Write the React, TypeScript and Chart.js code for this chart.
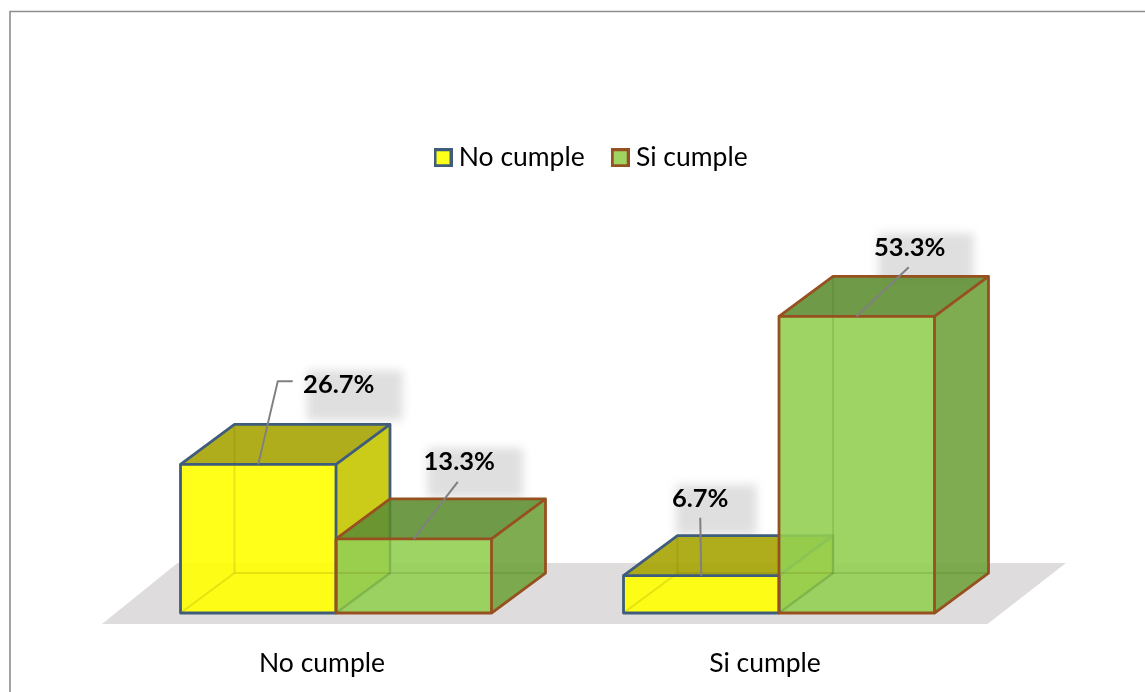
import React, { useEffect, useRef } from "react";
import { Chart, registerables } from "chart.js";

Chart.register(...registerables);

const categories = ["No cumple", "Si cumple"];
const seriesNames = ["No cumple", "Si cumple"];
const noCumpleValues = [26.7, 6.7];
const siCumpleValues = [13.3, 53.3];

const FONT = "Lato, 'Open Sans', sans-serif";
const DX = 54;
const DY = 40;

const skins = [
  {
    front: "rgba(255,255,0,0.9)",
    solid: "#FFFF1A",
    top: "rgba(167,164,3,0.9)",
    side: "rgba(197,197,0,0.9)",
    edge: "#3F5C7C",
    inner: "rgba(100,100,0,0.16)",
  },
  {
    front: "rgba(148,207,82,0.9)",
    solid: "#9FD463",
    top: "rgba(95,143,52,0.9)",
    side: "rgba(113,163,61,0.9)",
    edge: "#97501F",
    inner: "rgba(60,100,20,0.16)",
  },
];

// offsets from a bar's top centre: text centre and leader-line points
const labelPlacement = [
  [
    { tx: 80.5, ty: -80, path: [[19.5, -83], [34.5, -83]] },
    { tx: -1, ty: -77, path: [[-1, -58]] },
  ],
  [
    { tx: 45.5, ty: -77, path: [[44, -57]] },
    { tx: 53, ty: -69, path: [[52, -49]] },
  ],
];

function swatch(fill: string, edge: string) {
  const c = document.createElement("canvas");
  c.width = 19;
  c.height = 19;
  const g = c.getContext("2d")!;
  g.fillStyle = fill;
  g.fillRect(1, 1, 17, 17);
  g.strokeStyle = edge;
  g.lineWidth = 3;
  g.strokeRect(1.5, 1.5, 16, 16);
  return c;
}

function poly(ctx: CanvasRenderingContext2D, pts: number[][]) {
  ctx.beginPath();
  pts.forEach((p, i) => (i ? ctx.lineTo(p[0], p[1]) : ctx.moveTo(p[0], p[1])));
}

function bars(chart: any, fn: (b: any, ds: number, i: number) => void) {
  chart.data.labels.forEach((_: any, i: number) => {
    chart.data.datasets.forEach((_d: any, ds: number) => {
      const el = chart.getDatasetMeta(ds).data[i];
      const l = el.x - el.width / 2;
      fn({ l, r: l + el.width, t: el.y, b: el.base, cx: el.x }, ds, i);
    });
  });
}

const scene3d = {
  id: "scene3d",
  beforeDraw(chart: any) {
    const ctx = chart.ctx;
    ctx.save();
    ctx.strokeStyle = "#8E8E8E";
    ctx.lineWidth = 1.6;
    poly(ctx, [[10, 692], [10, 11.5], [1145, 11.5]]);
    ctx.stroke();
    ctx.restore();
  },
  beforeDatasetsDraw(chart: any) {
    const ctx = chart.ctx;
    const a = chart.chartArea;
    ctx.save();
    // floor
    ctx.fillStyle = "#DEDCDD";
    poly(ctx, [
      [a.left - 12.5, a.bottom + 11],
      [a.right - 13, a.bottom + 11],
      [a.right + 65.5, a.bottom - 50],
      [a.left + 63, a.bottom - 50],
    ]);
    ctx.closePath();
    ctx.fill();

    // soft shadows behind the value labels
    ctx.font = `bold 25.5px ${FONT}`;
    bars(chart, (b, ds, i) => {
      const p = labelPlacement[ds][i];
      const txt = chart.data.datasets[ds].data[i].toFixed(1) + "%";
      const w = ctx.measureText(txt).width;
      const cx = b.cx + p.tx;
      const cy = b.t + p.ty;
      ctx.save();
      ctx.filter = "blur(5px)";
      ctx.fillStyle = "#DFDFDF";
      ctx.fillRect(cx - w / 2 + 4, cy - 14, w + 24, 50);
      ctx.restore();
    });

    // top and side faces
    ctx.lineJoin = "round";
    bars(chart, (b, ds) => {
      const s = skins[ds];
      ctx.lineWidth = 2.8;
      ctx.strokeStyle = s.edge;
      ctx.fillStyle = s.side;
      poly(ctx, [[b.r, b.t], [b.r + DX, b.t - DY], [b.r + DX, b.b - DY], [b.r, b.b]]);
      ctx.closePath();
      ctx.fill();
      ctx.fillStyle = s.top;
      poly(ctx, [[b.l, b.t], [b.l + DX, b.t - DY], [b.r + DX, b.t - DY], [b.r, b.t]]);
      ctx.closePath();
      ctx.fill();
      poly(ctx, [[b.l, b.t], [b.l + DX, b.t - DY], [b.r + DX, b.t - DY], [b.r + DX, b.b - DY], [b.r, b.b]]);
      ctx.stroke();
      poly(ctx, [[b.r, b.t], [b.r + DX, b.t - DY]]);
      ctx.stroke();
    });
    ctx.restore();
  },
  afterDatasetsDraw(chart: any) {
    const ctx = chart.ctx;
    ctx.save();
    ctx.lineJoin = "round";
    // hidden edges seen through the faces
    bars(chart, (b, ds) => {
      ctx.strokeStyle = skins[ds].inner;
      ctx.lineWidth = 2;
      poly(ctx, [[b.l + DX, b.t - DY], [b.l + DX, b.b - DY], [b.r + DX, b.b - DY]]);
      ctx.stroke();
      poly(ctx, [[b.l, b.b], [b.l + DX, b.b - DY]]);
      ctx.stroke();
    });
    // front outlines
    bars(chart, (b, ds) => {
      ctx.strokeStyle = skins[ds].edge;
      ctx.lineWidth = 2.8;
      ctx.strokeRect(b.l, b.t, b.r - b.l, b.b - b.t);
    });
    // leaders and value labels
    bars(chart, (b, ds, i) => {
      const p = labelPlacement[ds][i];
      ctx.strokeStyle = "#808080";
      ctx.lineWidth = 2;
      poly(ctx, [[b.cx, b.t], ...p.path.map((q) => [b.cx + q[0], b.t + q[1]])]);
      ctx.stroke();
      ctx.fillStyle = "#000";
      ctx.font = `bold 25.5px ${FONT}`;
      ctx.textAlign = "center";
      ctx.textBaseline = "middle";
      ctx.fillText(chart.data.datasets[ds].data[i].toFixed(1) + "%", b.cx + p.tx, b.t + p.ty);
    });
    ctx.restore();
  },
  afterLayout(chart: any) {
    const lg = chart.legend;
    if (!lg) return;
    const p = lg.options.labels.padding;
    lg.left = 440.5 - p;
    lg.right = lg.left + 500;
    lg.top = 157 - p - (lg._itemHeight ?? 25) / 2;
    lg.bottom = lg.top + 100;
  },
};

export default function App() {
  const ref = useRef<HTMLCanvasElement>(null);
  useEffect(() => {
    document.body.style.margin = "0";
    const chart = new Chart(ref.current!, {
      type: "bar",
      data: {
        labels: categories,
        datasets: [
          {
            label: seriesNames[0],
            data: noCumpleValues,
            backgroundColor: skins[0].front,
            borderColor: skins[0].edge,
            borderWidth: 0,
            barPercentage: 1,
            categoryPercentage: 0.702,
          },
          {
            label: seriesNames[1],
            data: siCumpleValues,
            backgroundColor: skins[1].front,
            borderColor: skins[1].edge,
            borderWidth: 0,
            barPercentage: 1,
            categoryPercentage: 0.702,
          },
        ],
      },
      options: {
        responsive: false,
        animation: false,
        events: [],
        layout: { padding: { left: 114.5, right: 144.5, top: 209.5, bottom: 0 } },
        scales: {
          x: {
            grid: { display: false, drawTicks: false },
            border: { display: false },
            ticks: {
              color: "#000",
              font: { family: FONT, size: 26.5 },
              padding: 35,
              labelOffset: -14,
              maxRotation: 0,
              autoSkip: false,
            },
            afterFit(s: any) {
              s.height = 79;
            },
          },
          y: { display: false, min: 0, max: 60 },
        },
        plugins: {
          tooltip: { enabled: false },
          title: { display: false },
          legend: {
            display: true,
            position: "top",
            align: "start",
            labels: {
              color: "#000",
              font: { family: FONT, size: 26.5 },
              padding: 33,
              usePointStyle: true,
              pointStyleWidth: 5,
              generateLabels(c: any) {
                return c.data.datasets.map((d: any, i: number) => ({
                  text: d.label,
                  datasetIndex: i,
                  fontColor: "#000",
                  pointStyle: swatch(skins[i].solid, skins[i].edge),
                  fillStyle: skins[i].solid,
                  strokeStyle: skins[i].edge,
                  lineWidth: 0,
                  hidden: false,
                }));
              },
            },
          },
        },
      },
      plugins: [scene3d],
    } as any);
    return () => chart.destroy();
  }, []);
  return <canvas ref={ref} width={1145} height={692} style={{ display: "block" }} />;
}
